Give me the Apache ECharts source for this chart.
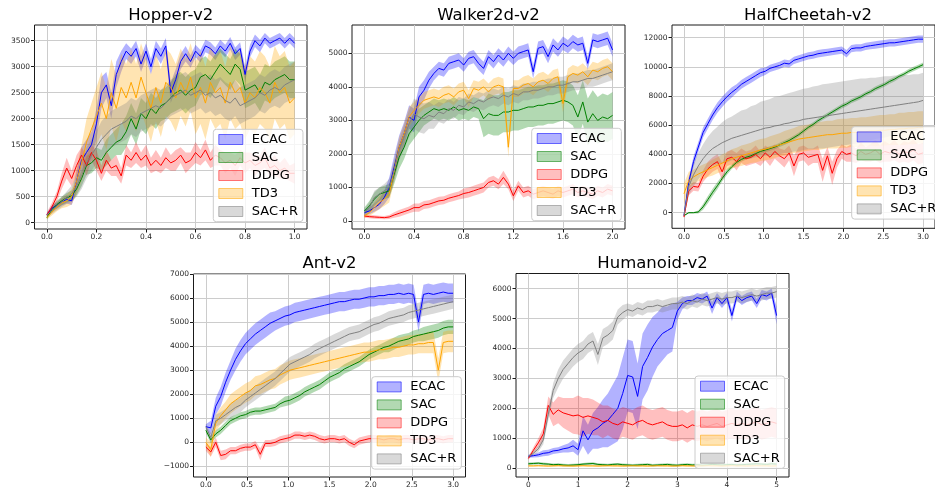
<!DOCTYPE html>
<html><head><meta charset="utf-8">
<script src="https://cdn.jsdelivr.net/npm/echarts@6/dist/echarts.min.js"></script>
<style>html,body{margin:0;padding:0;background:#fff}#c{width:935px;height:491px}</style>
</head><body><div id="c"></div>
<script>
const NAMES = ['ECAC','SAC','DDPG','TD3','SAC+R'];

// ---------- Hopper-v2 (x in millions of steps, logged every 0.02) ----------
const hopperStep = 0.02;
const hopperXTicks = [0,0.2,0.4,0.6,0.8,1.0];
const hopperYTicks = [0,500,1000,1500,2000,2500,3000,3500];
const hopperECAC = [150,280,330,400,450,420,800,1200,1350,1500, 1900,2500,2650,2250,2850,3100,3300,3200,3350,3050, 3300,3000,3350,3200,3400,2500,2750,3100,3250,3100, 3300,3200,3400,3350,3250,3400,3300,3450,3250,3350, 2850,3300,3500,3400,3550,3450,3500,3550,3450,3550, 3450];
const hopperECACsd = [30,50,60,70,80,80,200,250,250,250, 300,300,250,250,250,200,150,150,150,150, 150,150,150,150,150,200,200,150,150,120, 120,120,120,120,120,120,120,120,120,120, 150,120,120,120,100,100,100,100,100,100, 100];
const hopperSAC = [100,250,350,420,480,520,650,850,1100,1150, 1250,1200,1350,1450,1550,1600,1750,2000,1800,2100, 2000,2200,2100,2250,2300,2400,2500,2550,2450,2550, 2600,2800,2850,2750,2900,3050,2950,2850,3050,2950, 2550,2600,2650,2500,2700,2650,2750,2800,2850,2750, 2750];
const hopperSACsd = [40,60,70,80,90,100,120,150,180,200, 200,200,250,250,250,300,300,300,300,300, 300,300,300,300,300,300,350,350,350,350, 350,350,350,350,350,300,300,300,300,300, 350,350,350,350,350,350,350,350,350,350, 350];
const hopperDDPG = [150,300,500,800,1050,850,1100,1300,1100,1350, 1200,950,1200,1050,1100,900,1300,1200,1350,1200, 1300,1100,1200,1100,1250,1150,1200,1300,1150,1200, 1350,1250,1400,1200,1300,1250,1150,1200,1100,1250, 1150,1200,1100,1150,1250,1050,1100,1000,1050,950, 950];
const hopperDDPGsd = [50,80,100,150,200,150,200,150,200,150, 200,150,200,150,200,150,200,150,200,150, 200,150,200,150,200,150,200,150,200,150, 200,150,200,150,200,150,200,150,200,150, 200,150,200,150,200,150,200,150,200,150, 200];
const hopperTD3 = [100,200,300,380,420,500,800,1150,1550,1800, 2050,2300,2000,2500,2200,2600,2400,2700,2400,2800, 2500,2200,2600,2300,2700,2600,2400,2700,2500,2800, 2400,2600,2300,2700,2500,2600,2300,2700,2500,2600, 2300,2500,2400,2600,2500,2300,2700,2500,2600,2300, 2400];
const hopperTD3sd = [40,60,80,100,120,150,250,350,450,500, 550,600,600,650,650,650,650,650,650,650, 650,650,650,650,650,650,650,650,650,650, 700,700,700,700,700,700,700,700,700,700, 700,700,700,700,700,700,700,700,700,700, 700];
const hopperSACR = [150,230,320,400,480,560,700,900,1150,1300, 1450,1600,1700,1800,1850,1900,1950,2050,2000,2100, 2150,2200,2250,2200,2300,2400,2450,2500,2550,2450, 2500,2550,2450,2500,2400,2450,2350,2300,2400,2250, 2300,2350,2400,2500,2450,2550,2600,2550,2650,2700, 2750];
const hopperSACRsd = [40,60,80,100,120,150,200,250,300,300, 300,350,350,350,350,350,350,350,350,350, 350,350,350,350,350,350,350,350,350,350, 350,350,350,350,350,350,350,350,350,350, 350,350,350,350,350,350,350,350,350,350, 350];

// ---------- Walker2d-v2 (logged every 0.04) ----------
const walkerStep = 0.04;
const walkerXTicks = [0,0.4,0.8,1.2,1.6,2.0];
const walkerYTicks = [0,1000,2000,3000,4000,5000];
const walkerECAC = [250,300,400,500,700,1000,1600,2200,2600,3100, 3000,3700,3900,4200,4400,4550,4500,4700,4750,4800, 4650,4850,4900,4700,4550,4900,4750,4950,4800,5000, 4850,5000,5050,5100,4450,5150,5200,4900,5250,5100, 5300,5200,5350,5250,5300,4700,5400,5350,5400,5450, 5100];
const walkerECACsd = [80,100,120,150,200,300,350,350,350,350, 350,300,300,250,200,200,200,200,200,200, 200,200,200,200,200,200,200,200,200,200, 200,200,200,200,200,200,200,200,200,200, 200,200,200,200,200,200,200,200,200,200, 200];
const walkerSAC = [300,450,650,800,850,900,1400,1900,2200,2600, 2800,3000,3150,3250,3350,3300,3350,3300,3400,3300, 3350,3300,3400,3350,3050,3200,3150,3150,3250,3250, 3300,3300,3350,3400,3400,3450,3450,3500,3500,3550, 3600,3550,3450,3100,3550,2950,3200,3000,3100,3050, 3150];
const walkerSACsd = [100,150,200,200,200,200,300,350,350,350, 350,350,300,300,300,300,300,300,300,300, 300,300,300,300,550,600,600,600,600,600, 600,600,600,600,600,600,600,600,600,600, 600,600,600,650,650,700,700,700,700,700, 700];
const walkerDDPG = [150,130,120,110,100,120,180,230,280,330, 400,400,480,500,550,600,620,680,720,760, 820,850,900,950,1000,1150,1200,1100,1300,1100, 750,1050,850,900,800,850,900,850,800,900, 850,900,950,850,900,850,800,900,850,950, 900];
const walkerDDPGsd = [50,50,50,50,50,60,80,100,100,100, 120,120,120,120,120,120,120,120,120,120, 150,150,150,150,150,150,150,150,200,150, 150,150,150,150,150,150,150,150,150,150, 150,150,150,150,150,150,150,150,150,150, 150];
const walkerTD3 = [150,250,400,550,650,800,1500,2200,2600,3100, 3300,3450,3600,3650,3700,3650,3750,3800,3700,3850, 3900,3650,3950,3900,4000,3850,4000,4050,4000,2200, 3950,3950,4050,4100,4000,4150,4200,4100,4250,4300, 3500,4300,4400,4350,4450,4300,4500,4450,4550,4600, 4450];
const walkerTD3sd = [50,100,150,200,200,250,300,300,300,300, 250,250,250,250,250,250,250,250,250,250, 250,250,250,250,250,250,250,250,250,300, 250,250,250,250,250,250,250,250,250,250, 250,250,250,250,250,250,250,250,250,250, 250];
const walkerSACR = [250,400,700,800,900,1000,1500,2100,2500,2900, 3200,3100,3050,3150,3100,3250,3200,3350,3300,3450, 3400,3550,3500,3600,3550,3650,3700,3650,3750,3700, 3800,3750,3850,3850,3900,3900,3950,4000,4000,4050, 4050,4100,4150,4150,4200,4250,4250,4300,4350,4400, 4450];
const walkerSACRsd = [100,150,200,200,200,250,300,300,350,400, 450,450,450,400,350,300,300,300,250,250, 250,250,250,250,250,250,250,250,250,250, 250,250,250,250,250,250,250,250,250,250, 250,250,250,250,250,250,250,250,250,250, 250];

// ---------- HalfCheetah-v2 (logged every 0.06) ----------
const cheetahStep = 0.06;
const cheetahXTicks = [0,0.5,1.0,1.5,2.0,2.5,3.0];
const cheetahYTicks = [0,2000,4000,6000,8000,10000,12000];
const cheetahECAC = [-200,2100,3500,4500,5500,6100,6700,7200,7600,7950, 8250,8500,8800,9000,9200,9400,9600,9700,9900,10000, 10100,10250,10200,10450,10550,10650,10750,10800,10900,10950, 11000,11050,11100,11150,10900,11250,11300,11300,11400,11450, 11500,11550,11600,11650,11650,11700,11750,11800,11850,11900, 11900];
const cheetahECACsd = [100,300,350,350,350,350,350,350,350,350, 350,300,300,300,300,300,300,250,250,250, 250,250,250,250,250,250,250,250,250,250, 250,250,250,250,250,250,250,250,250,250, 250,250,250,250,250,250,250,250,250,250, 250];
const cheetahSAC = [-200,0,0,50,400,900,1400,1850,2350,2800, 3150,3450,3650,3800,3900,4050,4200,4300,4400,4500, 4650,4800,4950,5150,5350,5600,5850,6050,6300,6500, 6700,6900,7100,7300,7450,7650,7800,7950,8150,8300, 8500,8650,8800,9000,9150,9350,9500,9700,9850,10000, 10150];
const cheetahSACsd = [50,50,50,100,200,250,250,250,200,200, 150,150,150,150,150,150,150,150,150,150, 150,150,150,150,150,150,150,150,150,150, 150,150,150,150,150,150,150,150,150,150, 150,150,150,150,150,150,150,150,150,150, 150];
const cheetahDDPG = [-300,1500,1800,1750,2500,3000,3300,3500,2800,3700, 3800,3500,3900,3700,3800,4000,3700,4100,3800,4200, 3900,3700,4100,3200,4000,4100,3800,3900,4000,2900, 3900,2700,3700,4200,4000,4100,3900,4200,4000,4100, 4300,4000,4200,4100,4300,4000,4200,4100,4300,4000, 4100];
const cheetahDDPGsd = [100,300,300,300,400,500,500,500,600,500, 500,600,500,500,500,600,500,500,600,500, 500,600,500,700,500,500,600,500,600,800, 600,800,600,500,500,600,500,600,500,600, 700,600,700,600,700,600,700,700,700,700, 700];
const cheetahTD3 = [1300,2200,2450,2650,2800,2950,3100,3250,3400,3550, 3700,3800,3900,4000,4100,4200,4300,4350,4450,4550, 4650,4750,4850,4950,5050,5100,5150,5200,5250,5300, 5350,5350,5400,5450,5450,5500,5500,5550,5550,5600, 5600,5650,5650,5700,5700,5750,5750,5800,5800,5850, 5850];
const cheetahTD3sd = [700,600,500,500,500,500,550,550,600,600, 650,650,700,700,700,750,750,750,800,800, 800,850,850,850,900,900,900,900,950,950, 950,950,1000,1000,1000,1000,1000,1000,1000,1000, 1050,1050,1050,1050,1050,1100,1100,1100,1100,1100, 1100];
const cheetahSACR = [-200,1800,2600,3200,3700,4100,4400,4600,4800,4950, 5100,5200,5300,5400,5500,5600,5700,5800,5850,5950, 6000,6100,6150,6250,6300,6400,6450,6500,6550,6600, 6650,6700,6750,6800,6850,6900,6950,7000,7050,7100, 7150,7200,7250,7300,7350,7400,7450,7500,7550,7600, 7700];
const cheetahSACRsd = [100,600,800,900,1000,1100,1200,1300,1400,1500, 1500,1600,1700,1700,1800,1800,1900,1900,1950,2000, 2000,2000,2050,2050,2100,2100,2100,2150,2150,2200, 2200,2200,2200,2200,2200,2200,2200,2200,2150,2150, 2100,2100,2100,2050,2050,2000,2000,1950,1950,1900, 1900];

// ---------- Ant-v2 (logged every 0.06) ----------
const antStep = 0.06;
const antXTicks = [0,0.5,1.0,1.5,2.0,2.5,3.0];
const antYTicks = [-1000,0,1000,2000,3000,4000,5000,6000,7000];
const antECAC = [650,600,1500,1900,2500,3000,3450,3800,4100,4300, 4500,4650,4800,4950,5050,5150,5250,5300,5400,5450, 5500,5550,5600,5650,5700,5750,5800,5850,5850,5900, 5950,5950,6000,6050,6050,6100,6100,6150,6150,6200, 6150,6200,6150,5000,6150,6200,6150,6200,6250,6200, 6200];
const antECACsd = [100,300,350,400,400,400,450,450,450,450, 450,450,450,450,400,400,400,400,400,400, 400,400,400,400,400,400,400,400,400,400, 400,400,400,400,400,400,400,400,400,400, 400,400,400,400,400,400,400,400,400,400, 400];
const antSAC = [500,100,350,500,700,900,1000,1100,1150,1250, 1300,1300,1350,1400,1450,1600,1700,1750,1850,1950, 2100,2200,2300,2400,2550,2700,2800,2900,3050,3150, 3250,3350,3500,3650,3750,3850,3950,4000,4100,4200, 4250,4300,4400,4450,4500,4550,4600,4650,4750,4800, 4800];
const antSACsd = [100,150,150,150,150,150,150,150,150,150, 150,150,150,150,150,150,200,200,200,200, 200,200,200,200,200,200,200,200,200,200, 200,200,200,200,200,200,200,250,250,250, 250,250,250,250,300,300,300,300,300,300, 300];
const antDDPG = [-200,-400,0,-550,-500,-350,-350,-250,-200,-200, -100,-500,-50,-50,0,100,150,200,300,300, 250,300,250,150,100,150,150,100,150,0, -100,50,100,150,150,150,100,150,150,100, 150,150,100,150,150,100,150,150,100,150, 150];
const antDDPGsd = [150,200,200,200,200,150,150,150,150,150, 150,250,150,150,150,150,150,150,150,150, 150,150,150,150,150,150,150,150,150,150, 150,150,150,150,150,150,150,150,150,150, 150,150,150,150,150,150,150,150,150,150, 150];
const antTD3 = [0,-300,800,1100,1350,1600,1750,1900,2050,2150, 2350,2400,2500,2600,2650,2800,2900,3000,3050,3100, 3150,3200,3250,3300,3350,3400,3450,3500,3550,3600, 3650,3700,3750,3750,3800,3850,3850,3900,3950,3950, 4000,4050,4050,4100,4100,4150,4150,3000,4150,4200, 4200];
const antTD3sd = [200,300,350,350,350,400,400,400,400,400, 400,400,400,400,400,400,400,400,400,400, 400,400,400,400,400,400,400,400,400,400, 400,400,400,400,400,400,400,400,400,400, 400,400,400,400,400,450,450,500,450,450, 450];
const antSACR = [650,200,900,1000,1150,1300,1450,1550,1750,1900, 2050,2200,2350,2500,2650,2850,3050,3250,3350,3450, 3550,3650,3800,3900,4000,4100,4200,4300,4400,4500, 4550,4600,4700,4800,4900,4950,5050,5150,5200,5250, 5300,5400,5450,5500,5550,5600,5650,5700,5750,5800, 5850];
const antSACRsd = [100,200,250,250,250,300,300,300,300,300, 300,300,300,300,300,300,300,300,300,300, 300,300,300,300,300,300,300,300,300,300, 300,300,300,300,300,300,300,300,300,300, 300,300,300,300,300,300,300,300,300,300, 300];

// ---------- Humanoid-v2 (logged every 0.1) ----------
const humanStep = 0.1;
const humanXTicks = [0,1,2,3,4,5];
const humanYTicks = [0,1000,2000,3000,4000,5000,6000];
const humanECAC = [400,420,450,500,520,580,600,650,680,750, 620,1250,950,1250,1350,1500,1600,1800,2000,2500, 3100,3050,2400,3400,3700,4050,4300,4500,4600,4700, 5250,5500,5600,5600,5700,5650,5750,5350,5700,5500, 5700,5100,5750,5600,5700,5750,5500,5800,5750,5850, 5100];
const humanECACsd = [50,60,80,100,100,100,100,120,150,200, 200,500,500,600,700,800,900,1000,1100,1200, 1200,1200,1100,1100,1100,1000,900,900,800,800, 300,200,150,150,150,150,150,200,150,150, 150,200,150,150,150,150,150,150,150,150, 300];
const humanSAC = [150,160,170,150,140,120,130,110,100,110, 120,140,150,160,130,120,110,130,140,120, 110,100,110,120,130,100,110,120,130,110, 100,120,130,110,120,100,110,130,120,110, 120,130,110,120,130,140,150,140,130,150, 140];
const humanSACsd = [40,40,40,40,40,40,40,40,40,40, 40,40,40,40,40,40,40,40,40,40, 40,40,40,40,40,40,40,40,40,40, 40,40,40,40,40,40,40,40,40,40, 40,40,40,40,40,40,40,40,40,40, 40];
const humanDDPG = [330,600,850,1150,2100,1800,1950,1850,1800,1750, 1780,1700,1750,1700,1650,1550,1600,1500,1450,1550, 1500,1450,1550,1600,1500,1450,1500,1550,1450,1400, 1400,1450,1350,1450,1400,1450,1400,1450,1500,1400, 1450,1500,1450,1500,1450,1500,1550,1450,1500,1550, 1500];
const humanDDPGsd = [50,100,150,200,300,400,450,500,550,600, 650,650,600,600,550,550,500,500,500,500, 500,500,500,500,500,500,500,500,500,500, 500,500,500,500,500,500,500,500,500,500, 500,500,500,500,500,500,500,500,500,500, 500];
const humanTD3 = [80,80,85,80,75,80,85,80,80,75, 80,85,80,80,75,80,85,80,80,75, 80,85,80,80,75,80,85,80,80,75, 80,85,80,80,75,80,85,80,80,75, 80,85,80,80,75,80,85,80,80,75, 80];
const humanTD3sd = [20,20,20,20,20,20,20,20,20,20, 20,20,20,20,20,20,20,20,20,20, 20,20,20,20,20,20,20,20,20,20, 20,20,20,20,20,20,20,20,20,20, 20,20,20,20,20,20,20,20,20,20, 20];
const humanSACR = [390,500,650,950,1800,2600,3000,3300,3500,3700, 3850,3950,4150,4250,3800,4350,4450,4600,5050,5200, 5300,5250,5350,5300,5400,5400,5450,5400,5450,5500, 5500,5550,5500,5600,5550,5650,5600,5650,5700,5650, 5700,5700,5750,5700,5750,5800,5750,5800,5850,5850, 5900];
const humanSACRsd = [50,80,100,150,200,250,300,300,300,300, 300,300,300,300,350,300,300,300,250,250, 200,200,200,200,200,200,200,200,200,200, 200,200,200,200,200,200,200,200,200,200, 200,200,200,200,200,200,200,200,200,200, 200];

// ---------- styles ----------
const COLOR = {'ECAC':'#0000ff','SAC':'#008000','DDPG':'#ff0000','TD3':'#ffa500','SAC+R':'#808080'};
const FILL = {'ECAC':'rgba(0,0,255,0.3)','SAC':'rgba(0,128,0,0.3)','DDPG':'rgba(255,0,0,0.25)','TD3':'rgba(255,165,0,0.3)','SAC+R':'rgba(128,128,128,0.3)'};
const EDGE = {'ECAC':'rgba(0,0,255,0.55)','SAC':'rgba(0,128,0,0.55)','DDPG':'rgba(255,0,0,0.5)','TD3':'rgba(255,165,0,0.55)','SAC+R':'rgba(128,128,128,0.55)'};
const FONT = 'DejaVu Sans';

const panels = [
  {title:'Hopper-v2', step:hopperStep, means:[hopperECAC,hopperSAC,hopperDDPG,hopperTD3,hopperSACR],
   sds:[hopperECACsd,hopperSACsd,hopperDDPGsd,hopperTD3sd,hopperSACRsd], xTicks:hopperXTicks, yTicks:hopperYTicks, xDec:1,
   grid:{left:34.5,top:25,width:272.5,height:204}, xr:[-0.05,1.05], yr:[-121,3802], tx:170.7, ty:7.5, lg:[213.3,129.3]},
  {title:'Walker2d-v2', step:walkerStep, means:[walkerECAC,walkerSAC,walkerDDPG,walkerTD3,walkerSACR],
   sds:[walkerECACsd,walkerSACsd,walkerDDPGsd,walkerTD3sd,walkerSACRsd], xTicks:walkerXTicks, yTicks:walkerYTicks, xDec:1,
   grid:{left:352,top:25,width:273,height:204}, xr:[-0.1,2.1], yr:[-238,5844], tx:488.5, ty:7.5, lg:[531.7,128.3]},
  {title:'HalfCheetah-v2', step:cheetahStep, means:[cheetahECAC,cheetahSAC,cheetahDDPG,cheetahTD3,cheetahSACR],
   sds:[cheetahECACsd,cheetahSACsd,cheetahDDPGsd,cheetahTD3sd,cheetahSACRsd], xTicks:cheetahXTicks, yTicks:cheetahYTicks, xDec:1,
   grid:{left:672,top:25,width:272,height:203.3}, xr:[-0.15,3.15], yr:[-1070,12871], tx:808, ty:7.5, lg:[851.7,126.7]},
  {title:'Ant-v2', step:antStep, means:[antECAC,antSAC,antDDPG,antTD3,antSACR],
   sds:[antECACsd,antSACsd,antDDPGsd,antTD3sd,antSACRsd], xTicks:antXTicks, yTicks:antYTicks, xDec:1,
   grid:{left:193.5,top:274,width:272,height:203}, xr:[-0.15,3.15], yr:[-1443,7000], tx:329.5, ty:255, lg:[371.7,376.7]},
  {title:'Humanoid-v2', step:humanStep, means:[humanECAC,humanSAC,humanDDPG,humanTD3,humanSACR],
   sds:[humanECACsd,humanSACsd,humanDDPGsd,humanTD3sd,humanSACRsd], xTicks:humanXTicks, yTicks:humanYTicks, xDec:0,
   grid:{left:516,top:273.5,width:273,height:203.5}, xr:[-0.25,5.25], yr:[-291,6505], tx:652.5, ty:255, lg:[695,376]}
];

function tickFmt(ticks, f) {
  return function (v) {
    for (const t of ticks) { if (Math.abs(v - t) < 1e-6) return f(t); }
    return '';
  };
}
function mkAxis(k, range, ticks, f) {
  const iv = ticks[1] - ticks[0];
  return {
    type:'value', gridIndex:k, min:range[0], max:range[1], minInterval:iv, maxInterval:iv,
    axisLine:{show:false, onZero:false},
    axisTick:{show:true, inside:false, length:3.5, customValues:ticks, lineStyle:{color:'#1a1a1a', width:1}},
    axisLabel:{show:true, customValues:ticks, margin:4.5, fontSize:7.5, color:'#262626', fontFamily:FONT,
      formatter:tickFmt(ticks, f)},
    splitLine:{show:true, lineStyle:{color:'#cccccc', width:1}}
  };
}
// shaded band (mean ± sd) drawn as one polygon through the axis scales
function bandRender(xs, lo, hi, fill) {
  return function (params, api) {
    if (params.dataIndex !== 0) return null;
    const pts = [];
    for (let i = 0; i < xs.length; i++) pts.push(api.coord([xs[i], hi[i]]));
    for (let i = xs.length - 1; i >= 0; i--) pts.push(api.coord([xs[i], lo[i]]));
    const cs = params.coordSys;
    return {type:'polygon', shape:{points:pts}, style:{fill:fill, stroke:null},
      clipPath:{type:'rect', shape:{x:cs.x, y:cs.y, width:cs.width, height:cs.height}}};
  };
}

const option = {animation:false, backgroundColor:'#ffffff', title:[], grid:[], xAxis:[], yAxis:[], legend:[], series:[]};

panels.forEach(function (p, k) {
  option.title.push({text:p.title, left:p.tx, top:p.ty, textAlign:'center', padding:0,
    textStyle:{fontSize:16.5, fontWeight:'normal', fontFamily:FONT, color:'#000'}});
  option.grid.push({show:true, left:p.grid.left, top:p.grid.top, width:p.grid.width, height:p.grid.height,
    borderColor:'#1a1a1a', borderWidth:1, backgroundColor:'rgba(0,0,0,0)'});
  option.xAxis.push(mkAxis(k, p.xr, p.xTicks, function (v) { return v.toFixed(p.xDec); }));
  option.yAxis.push(mkAxis(k, p.yr, p.yTicks, function (v) { return v < 0 ? '\u2212' + Math.abs(v) : String(v); }));
  option.legend.push({
    orient:'vertical', left:p.lg[0], top:p.lg[1], icon:'rect', itemWidth:24, itemHeight:10, itemGap:5,
    padding:[3.7,5,3.7,5], backgroundColor:'rgba(255,255,255,0.8)', borderColor:'#cccccc', borderWidth:1, borderRadius:3,
    selectedMode:false,
    textStyle:{fontSize:13, fontFamily:FONT, color:'#000', padding:[0,0,0,4]},
    data:NAMES.map(function (n) { return {name:n, itemStyle:{color:FILL[n], borderColor:EDGE[n], borderWidth:1}}; })
  });
  p.means.forEach(function (m, j) {
    const nm = NAMES[j], sd = p.sds[j];
    const xs = m.map(function (_, i) { return +(i * p.step).toFixed(4); });
    const lo = m.map(function (v, i) { return v - (sd[i] || 0); });
    const hi = m.map(function (v, i) { return v + (sd[i] || 0); });
    option.series.push({type:'custom', name:nm, xAxisIndex:k, yAxisIndex:k, silent:true, z:1,
      renderItem:bandRender(xs, lo, hi, FILL[nm]), encode:{x:0, y:[1,2]},
      data:xs.map(function (x, i) { return [x, lo[i], hi[i]]; })});
  });
  p.means.forEach(function (m, j) {
    const nm = NAMES[j];
    const xs = m.map(function (_, i) { return +(i * p.step).toFixed(4); });
    option.series.push({type:'line', name:nm, xAxisIndex:k, yAxisIndex:k, symbol:'none', silent:true, z:2,
      color:COLOR[nm], lineStyle:{color:COLOR[nm], width:1},
      data:xs.map(function (x, i) { return [x, m[i]]; })});
  });
});

const chart = echarts.init(document.getElementById('c'), null, {renderer:'canvas'});
chart.setOption(option);
</script>
</body></html>
